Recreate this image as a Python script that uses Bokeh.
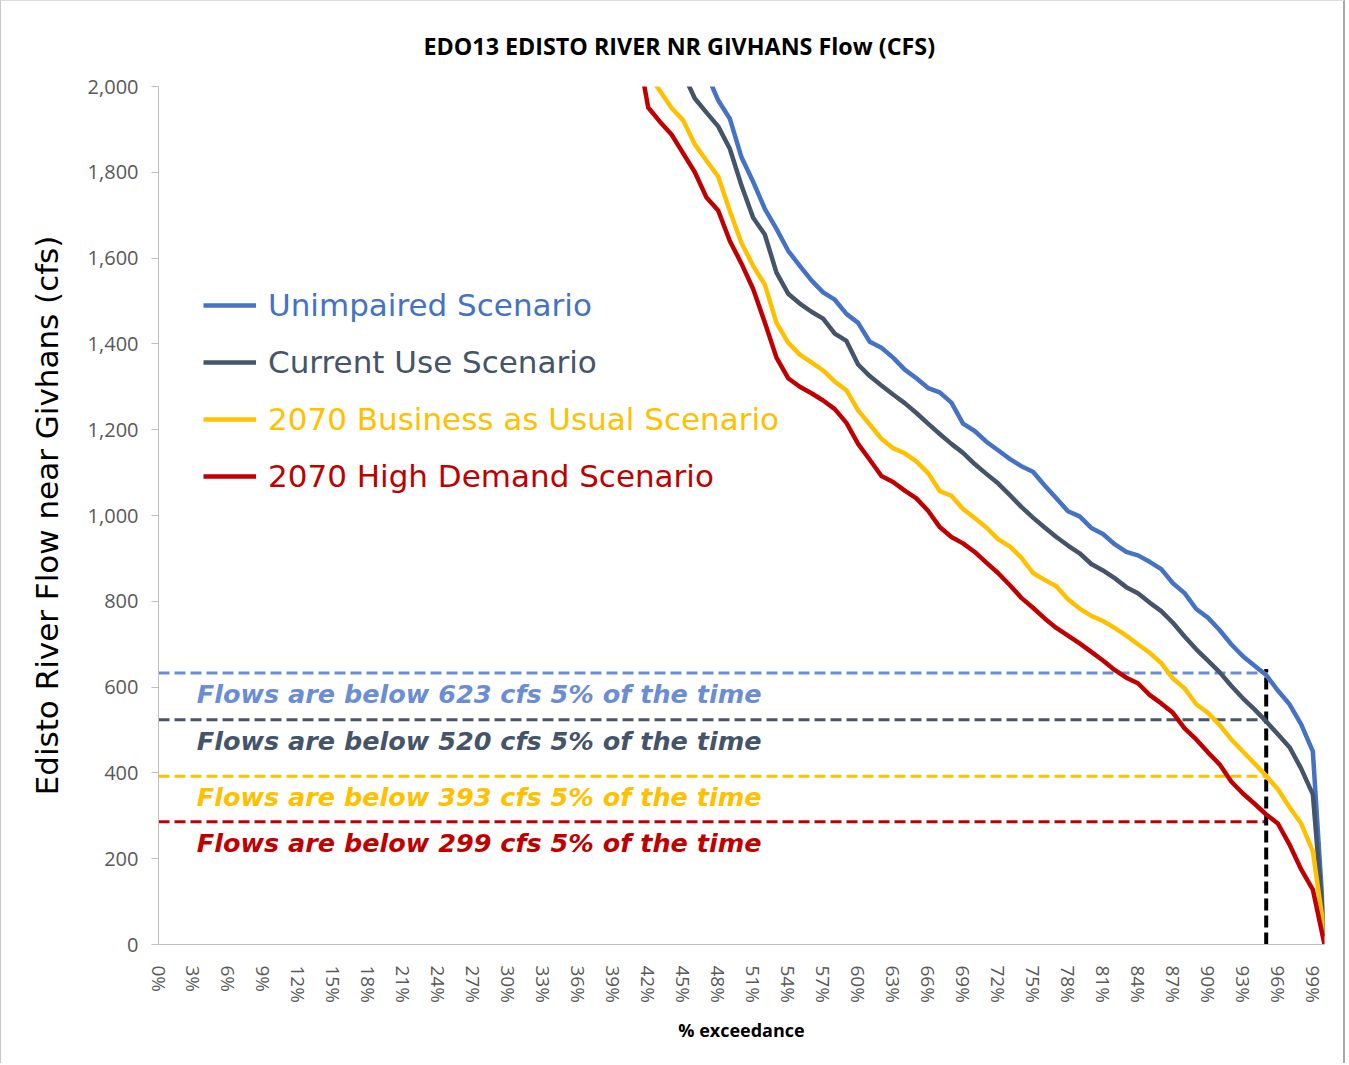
from bokeh.plotting import figure
from bokeh.models import Range1d, FixedTicker, Legend, LegendItem, ColumnDataSource, NumeralTickFormatter
from bokeh.core.properties import value
from bokeh.embed import file_html
from bokeh.resources import INLINE

# ---------------- data ----------------
unimpaired_pct = list(range(47, 101))
unimpaired = [2030, 1968, 1925, 1835, 1778, 1715, 1668, 1617, 1582, 1548,
              1520, 1503, 1470, 1449, 1405, 1391, 1368, 1340, 1320, 1297,
              1287, 1263, 1214, 1197, 1172, 1152, 1132, 1115, 1102, 1070,
              1040, 1010, 998, 971, 957, 933, 915, 907, 892, 875,
              842, 819, 782, 762, 733, 700, 672, 650, 628, 592,
              560, 513, 450, 20]

current_pct = list(range(45, 101))
current = [2030, 1972, 1939, 1907, 1855, 1769, 1694, 1655, 1566, 1517,
           1494, 1475, 1459, 1424, 1407, 1352, 1325, 1303, 1282, 1262,
           1239, 1214, 1190, 1167, 1146, 1120, 1097, 1075, 1048, 1020,
           995, 972, 950, 930, 912, 887, 872, 854, 833, 819,
           797, 777, 750, 718, 688, 662, 635, 603, 574, 548,
           520, 490, 460, 410, 350, 20]

bau_pct = list(range(42, 101))
bau_2070 = [2030, 1990, 1950, 1921, 1865, 1827, 1790, 1710, 1635, 1582,
            1538, 1449, 1403, 1375, 1357, 1338, 1312, 1292, 1245, 1212,
            1179, 1157, 1145, 1126, 1099, 1057, 1046, 1015, 994, 972,
            945, 928, 902, 866, 850, 835, 805, 783, 766, 754,
            738, 720, 700, 680, 656, 620, 597, 560, 540, 512,
            478, 450, 422, 393, 362, 320, 282, 217, 25]

high_pct = list(range(41, 101))
high_2070 = [2100, 1951, 1918, 1888, 1844, 1800, 1741, 1711, 1640, 1587,
             1528, 1450, 1368, 1320, 1300, 1285, 1268, 1248, 1216, 1167,
             1130, 1092, 1078, 1058, 1040, 1011, 973, 950, 935, 915,
             890, 866, 838, 808, 785, 760, 738, 720, 702, 682,
             662, 640, 622, 609, 582, 562, 540, 504, 478, 448,
             420, 380, 352, 328, 303, 282, 233, 175, 128, 0]

series_names = ["Unimpaired Scenario", "Current Use Scenario",
                "2070 Business as Usual Scenario", "2070 High Demand Scenario"]
series_colors = ["#4472C4", "#44546A", "#FFC000", "#C00000"]
note_colors = ["#6A8DD3", "#44546A", "#FFC000", "#C00000"]

low_flow_values = [623, 520, 393, 299]      # stated 5% exceedance flows
low_flow_lines = [633, 524, 392, 286]       # dashed line heights as drawn
exceedance_mark = 95
exceedance_mark_top = 642

x_ticks = list(range(0, 100, 3))
x_tick_labels = {t: f"{t}%" for t in x_ticks}
y_ticks = list(range(0, 2001, 200))

title_text = "EDO13 EDISTO RIVER NR GIVHANS Flow (CFS)"

# ---------------- figure ----------------
TICK_FONT = "Open Sans"
LEG_FONT = "DejaVu Sans"

p = figure(width=1345, height=1063, output_backend="svg", toolbar_location=None,
           x_range=Range1d(0, 100), y_range=Range1d(0, 2000),
           min_border_left=157, min_border_right=22, min_border_top=85, min_border_bottom=120,
           title=title_text)
p.styles = {"border-left": "1px solid #C8C8C8", "border-top": "1px solid #DCDCDC",
            "border-right": "2px solid #A8A8A8"}
p.outline_line_color = None
p.xgrid.visible = False
p.ygrid.visible = False
p.background_fill_color = "white"
p.border_fill_color = "white"

p.title.align = "left"
p.title.offset = 265
p.title.standoff = 50
p.title.vertical_align = "bottom"
p.title.text_font = TICK_FONT
p.title.text_font_size = "23.3px"
p.title.text_font_style = "bold"
p.title.text_color = "#000000"

p.xaxis.ticker = FixedTicker(ticks=x_ticks)
p.xaxis.major_label_overrides = x_tick_labels
p.xaxis.major_label_orientation = "vertical"
p.xaxis.axis_line_color = "#BFBFBF"
p.xaxis.major_tick_line_color = None
p.xaxis.minor_tick_line_color = None
p.xaxis.major_label_standoff = 15
p.xaxis.major_label_text_font = TICK_FONT
p.xaxis.major_label_text_font_size = "19px"
p.xaxis.major_label_text_color = "#595959"
p.xaxis.axis_label = "% exceedance"
p.xaxis.axis_label_text_font = TICK_FONT
p.xaxis.axis_label_text_font_size = "18px"
p.xaxis.axis_label_text_font_style = "bold"
p.xaxis.axis_label_text_color = "#000000"
p.xaxis.axis_label_standoff = 12

p.yaxis.ticker = FixedTicker(ticks=y_ticks)
p.yaxis.formatter = NumeralTickFormatter(format="0,0")
p.yaxis.axis_line_color = "#BFBFBF"
p.yaxis.major_tick_line_color = "#BFBFBF"
p.yaxis.major_tick_out = 7
p.yaxis.major_tick_in = 0
p.yaxis.minor_tick_line_color = None
p.yaxis.major_label_standoff = 13
p.yaxis.major_label_text_font = TICK_FONT
p.yaxis.major_label_text_font_size = "20px"
p.yaxis.major_label_text_color = "#595959"
p.yaxis.axis_label = "Edisto River Flow near Givhans (cfs)"
p.yaxis.axis_label_text_font = LEG_FONT
p.yaxis.axis_label_text_font_size = "31px"
p.yaxis.axis_label_text_font_style = "normal"
p.yaxis.axis_label_text_color = "#000000"
p.yaxis.axis_label_standoff = 20

# threshold dashed lines
thr_src = ColumnDataSource(dict(
    x0=[0] * 4, x1=[exceedance_mark] * 4, y=low_flow_lines, color=note_colors,
    text=[f"Flows are below {v} cfs 5% of the time" for v in low_flow_values],
    tx=[27.5] * 4))
p.segment(x0="x0", y0="y", x1="x1", y1="y", source=thr_src, line_color="color",
          line_width=3, line_dash="11 5")
p.segment(x0=[exceedance_mark], y0=[0], x1=[exceedance_mark], y1=[exceedance_mark_top],
          line_color="black", line_width=4, line_dash="12 5")

# curves
all_x = [unimpaired_pct, current_pct, bau_pct, high_pct]
all_y = [unimpaired, current, bau_2070, high_2070]
renderers = []
for xs, ys, c in zip(all_x, all_y, series_colors):
    renderers.append(p.line(xs, ys, line_color=c, line_width=4.5, line_join="round"))

p.text(x="tx", y="y", text="text", source=thr_src, text_color="color",
       text_font=value(LEG_FONT), text_font_style="bold italic", text_font_size="25.5px",
       text_align="center", text_baseline="middle", y_offset=21)

# legends (one per entry so each label keeps its series colour)
for i, (name, c, r) in enumerate(zip(series_names, series_colors, renderers)):
    lg = Legend(items=[LegendItem(label=name, renderers=[r])],
                location=(45, 619 - 57 * i), orientation="vertical",
                glyph_width=53, glyph_height=40, label_height=40, label_standoff=12,
                padding=0, margin=0, spacing=0, border_line_color=None,
                background_fill_alpha=0, label_text_font=LEG_FONT,
                label_text_font_size="31px", label_text_color=c,
                label_text_baseline="middle")
    p.add_layout(lg)

open("out.html", "w").write(file_html(p, INLINE))
